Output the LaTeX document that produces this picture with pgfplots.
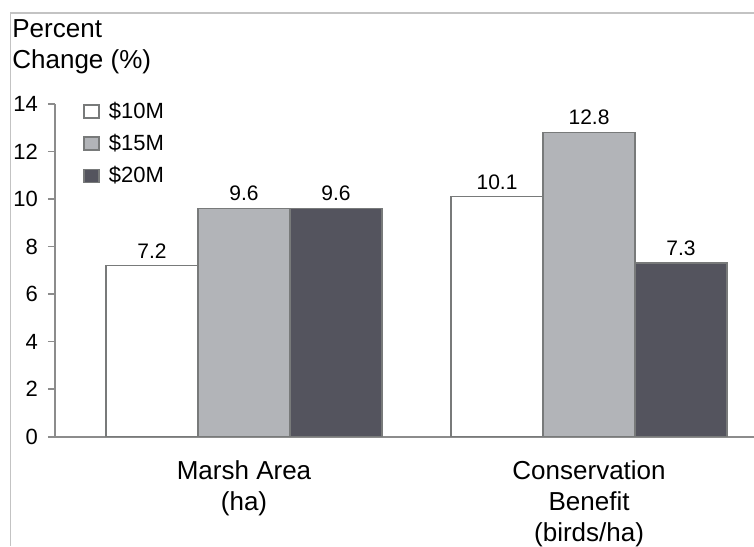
\documentclass[border=0pt]{standalone}
\usepackage{pgfplots}
\pgfplotsset{compat=1.18}
\usepackage{fontspec}
\setmainfont{Liberation Sans}
\definecolor{barlight}{RGB}{178,180,184}
\definecolor{bardark}{RGB}{84,84,94}
\definecolor{edgegray}{RGB}{120,122,122}
\definecolor{axisgray}{RGB}{140,140,140}
\definecolor{framegray}{RGB}{195,195,195}
\begin{document}
\begin{tikzpicture}
\begin{axis}[
  at={(27.5pt,54.65pt)}, anchor=south west,
  scale only axis, width=349.5pt, height=166.35pt,
  xmin=-0.5478, xmax=1.478, ymin=0, ymax=14,
  axis lines*=left,
  axis line style={draw=axisgray, line width=0.8pt},
  ybar=0pt, bar width=46pt,
  ytick={0,2,...,14},
  tick align=outside,
  major tick length=3.5pt,
  tick style={draw=axisgray, line width=0.8pt},
  yticklabel style={font=\fontsize{11}{12}\selectfont, xshift=-1.5pt},
  /pgf/number format/assume math mode=true,
  xtick={0,1},
  xticklabels={{Marsh Area\\(ha)},{Conservation\\Benefit\\(birds/ha)}},
  xticklabel style={align=center, font=\fontsize{13}{15.5}\selectfont, inner sep=0pt, yshift=-8.5pt},
  major x tick style={draw=none},
  extra x ticks={-0.5478},
  extra x tick labels={},
  extra x tick style={major tick length=3pt, tick style={draw=axisgray, line width=0.8pt}},
  nodes near coords,
  nodes near coords style={font=\fontsize{10.5}{12}\selectfont, /pgf/number format/.cd, fixed, fixed zerofill, precision=1},
  legend style={at={(rel axis cs:0.04,1.02)}, anchor=north west, draw=none, fill=none,
    font=\fontsize{11}{12}\selectfont, row sep=2.5pt, inner sep=0pt},
  legend cell align=left,
  legend image code/.code={\draw[#1, draw=edgegray, line width=0.8pt] (0pt,-3.2pt) rectangle (7.5pt,3.2pt); \path (10pt,0pt);},
]
\addplot[fill=white, draw=edgegray, line width=0.8pt] coordinates {(0,7.2) (1,10.1)};
\addplot[fill=barlight, draw=edgegray, line width=0.8pt] coordinates {(0,9.6) (1,12.8)};
\addplot[fill=bardark, draw=edgegray, line width=0.8pt] coordinates {(0,9.6) (1,7.3)};
\legend{\$10M,\$15M,\$20M}
\end{axis}
\node[anchor=north west, align=left, inner sep=0pt, font=\fontsize{13}{15.5}\selectfont] at (6pt,263.5pt) {Percent\\Change (\%)};
\draw[framegray, line width=0.7pt] (5.25pt,0pt) -- (5.25pt,266.5pt) -- (377pt,266.5pt);
\pgfresetboundingbox
\useasboundingbox (0pt,0pt) rectangle (377pt,273pt);
\end{tikzpicture}
\end{document}
